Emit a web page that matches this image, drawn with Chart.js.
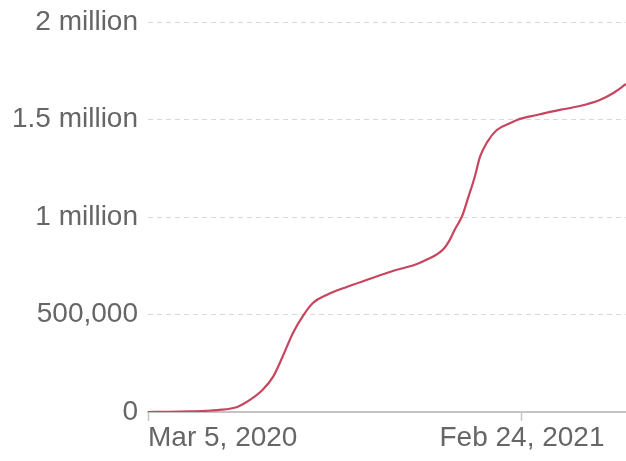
<!DOCTYPE html>
<html>
<head>
<meta charset="utf-8">
<script src="https://cdn.jsdelivr.net/npm/chart.js@4"></script>
<style>
    html, body { margin: 0; padding: 0; background: #fff; }
    #wrap { width: 626px; height: 461px; position: relative; }
</style>
</head>
<body>
<div id="wrap"><canvas id="chartTotal"></canvas></div>
<script>
// days since Mar 5, 2020 and cumulative totals
const days = [0, 20, 40, 55, 66, 85, 97, 109, 119, 128, 138, 148, 157, 170, 189, 208, 233, 256, 268, 276, 282, 287, 292, 299, 305, 311, 316, 323, 332, 345, 354, 370, 392, 411, 430, 443, 455];
const totals = [0, 1000, 3000, 6000, 10000, 26000, 62000, 113000, 180000, 282000, 405000, 497000, 559000, 600000, 641000, 677000, 723000, 759000, 788000, 812000, 840000, 880000, 935000, 1005000, 1103000, 1205000, 1308000, 1385000, 1446000, 1482000, 1503000, 1523000, 1549000, 1569000, 1600000, 1636000, 1682000];

const xTickDays = [0, 356, 455];
const xTickLabels = ['Mar 5, 2020', 'Feb 24, 2021', ''];
const yTickValues = [0, 500000, 1000000, 1500000, 2000000];
const yTickLabels = ['0', '500,000', '1 million', '1.5 million', '2 million'];

const points = days.map((d, i) => ({ x: d, y: totals[i] }));

new Chart(document.getElementById('chartTotal'), {
    type: 'line',
    data: {
        datasets: [{
            data: points,
            borderColor: '#c8455f',
            borderWidth: 2.2,
            pointRadius: 0,
            fill: false,
            cubicInterpolationMode: 'monotone'
        }]
    },
    options: {
        responsive: true,
        maintainAspectRatio: false,
        animation: false,
        layout: { padding: { top: 22, right: 0, left: 0, bottom: 0 } },
        plugins: {
            legend: { display: false },
            tooltip: { enabled: false }
        },
        scales: {
            x: {
                type: 'linear',
                min: 0,
                max: 455,
                afterBuildTicks: axis => {
                    axis.ticks = xTickDays.map(v => ({ value: v }));
                },
                afterFit: axis => { axis.height = 49; },
                border: { display: true, color: '#c4c4c4', width: 2 },
                grid: {
                    drawOnChartArea: false,
                    drawTicks: true,
                    tickLength: 9,
                    tickWidth: 1.5,
                    tickColor: ctx => ctx.index === 2 ? 'rgba(0,0,0,0)' : '#c4c4c4'
                },
                ticks: {
                    align: 'inner',
                    maxRotation: 0,
                    autoSkip: false,
                    padding: 0,
                    color: '#666666',
                    font: { family: 'Liberation Sans, Arial, sans-serif', size: 28 },
                    callback: (v, i) => xTickLabels[i]
                }
            },
            y: {
                min: 0,
                max: 2000000,
                afterBuildTicks: axis => {
                    axis.ticks = yTickValues.map(v => ({ value: v }));
                },
                afterFit: axis => {
                    axis.width = 148;
                    axis.paddingTop = 0;
                    axis.paddingBottom = 0;
                },
                border: { display: false, dash: [5, 4] },
                grid: {
                    drawTicks: false,
                    lineWidth: 1,
                    color: ctx => ctx.index === 0 ? 'rgba(0,0,0,0)' : '#d8d8d8'
                },
                ticks: {
                    padding: 10,
                    color: '#666666',
                    font: { family: 'Liberation Sans, Arial, sans-serif', size: 28 },
                    callback: (v, i) => yTickLabels[i]
                }
            }
        }
    }
});
</script>
</body>
</html>
